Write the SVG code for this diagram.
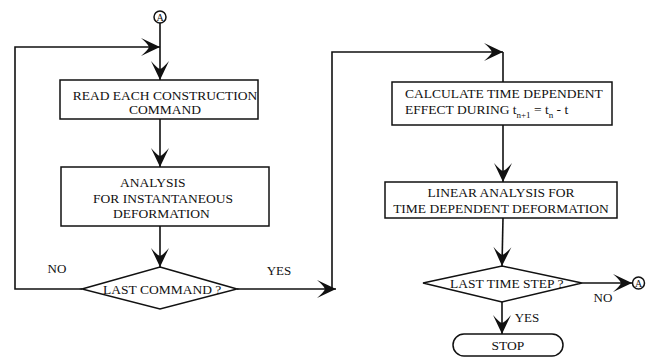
<svg xmlns="http://www.w3.org/2000/svg" width="646" height="358" viewBox="0 0 646 358">
<style>
  .box { fill: #fff; stroke: #111; stroke-width: 1.5; }
  .ln { fill: none; stroke: #111; stroke-width: 1.6; }
  .t { font-family: "Liberation Serif", "Times New Roman", serif; font-size: 13.5px; fill: #111; }
  .lbl { font-family: "Liberation Serif", "Times New Roman", serif; font-size: 13px; fill: #111; }
  .sm { font-family: "Liberation Serif", "Times New Roman", serif; font-size: 9px; fill: #111; }
  .ca { font-family: "Liberation Serif", "Times New Roman", serif; font-size: 10px; fill: #111; }
</style>
<defs>
  <marker id="arr" markerUnits="userSpaceOnUse" markerWidth="22" markerHeight="22" viewBox="0 0 22 22" refX="21" refY="11" orient="auto">
    <path d="M21,11 L2,2 Q9,8 10,11 Q9,14 2,20 Z" fill="#111"/>
  </marker>
</defs>
<rect width="646" height="358" fill="#fff"/>

<g id="connectors">
  <line class="ln" x1="160" y1="23" x2="160" y2="80" marker-end="url(#arr)"/>
  <polyline class="ln" points="82,289 15,289 15,47 160,47" marker-end="url(#arr)"/>
  <line class="ln" x1="160" y1="119" x2="160" y2="167" marker-end="url(#arr)"/>
  <line class="ln" x1="160" y1="226" x2="160" y2="267" marker-end="url(#arr)"/>
  <line class="ln" x1="237" y1="289" x2="336" y2="289" marker-end="url(#arr)"/>
  <polyline class="ln" points="332,289 332,52 503,52" marker-end="url(#arr)"/>
  <line class="ln" x1="503" y1="52" x2="503" y2="82"/>
  <line class="ln" x1="503" y1="125" x2="503" y2="182" marker-end="url(#arr)"/>
  <line class="ln" x1="503" y1="218" x2="502" y2="266" marker-end="url(#arr)"/>
  <line class="ln" x1="582" y1="283" x2="632" y2="283" marker-end="url(#arr)"/>
  <line class="ln" x1="502" y1="302" x2="502" y2="334" marker-end="url(#arr)"/>
</g>

<g id="connectorA-top">
  <circle class="box" cx="160" cy="17" r="6"/>
  <text class="ca" x="160" y="20.5" text-anchor="middle">A</text>
</g>

<g id="read-command">
  <rect class="box" x="60" y="80" width="198" height="39"/>
  <text class="t" x="165" y="100" text-anchor="middle">READ EACH CONSTRUCTION</text>
  <text class="t" x="165" y="114" text-anchor="middle">COMMAND</text>
</g>

<g id="instant-analysis">
  <rect class="box" x="61" y="167" width="208" height="59"/>
  <text class="t" x="120" y="186.5">ANALYSIS</text>
  <text class="t" x="93" y="202.5">FOR INSTANTANEOUS</text>
  <text class="t" x="113" y="217.5">DEFORMATION</text>
</g>

<g id="last-command">
  <polygon class="box" points="160,267 237,289 160,309 82,289"/>
  <text class="t" x="103" y="293.5">LAST  COMMAND ?</text>
</g>
<text class="lbl" x="57" y="272.5" text-anchor="middle">NO</text>
<text class="lbl" x="279" y="274.5" text-anchor="middle">YES</text>

<g id="calc-effect">
  <rect class="box" x="392" y="82" width="220" height="43"/>
  <text class="t" x="405" y="98">CALCULATE TIME DEPENDENT</text>
  <text class="t" x="405" y="114">EFFECT DURING t<tspan class="sm" dy="4">n+1</tspan><tspan dy="-4"> =  t</tspan><tspan class="sm" dy="4">n</tspan><tspan dy="-4"> - t</tspan></text>
</g>

<g id="linear-analysis">
  <rect class="box" x="385" y="182" width="232" height="36"/>
  <text class="t" x="501" y="197" text-anchor="middle">LINEAR ANALYSIS FOR</text>
  <text class="t" x="501" y="213" text-anchor="middle">TIME DEPENDENT DEFORMATION</text>
</g>

<g id="last-time-step">
  <polygon class="box" points="502,266 582,283 502,302 423,283"/>
  <text class="t" x="450" y="287.5">LAST TIME STEP ?</text>
</g>
<text class="lbl" x="603" y="302" text-anchor="middle">NO</text>
<text class="lbl" x="527" y="322" text-anchor="middle">YES</text>

<g id="connectorA-right">
  <circle class="box" cx="638.5" cy="283" r="6"/>
  <text class="ca" x="638.5" y="286.5" text-anchor="middle">A</text>
</g>

<g id="stop">
  <rect class="box" x="453" y="334" width="110" height="22" rx="11" ry="11"/>
  <text class="t" x="508" y="350" text-anchor="middle">STOP</text>
</g>
</svg>
